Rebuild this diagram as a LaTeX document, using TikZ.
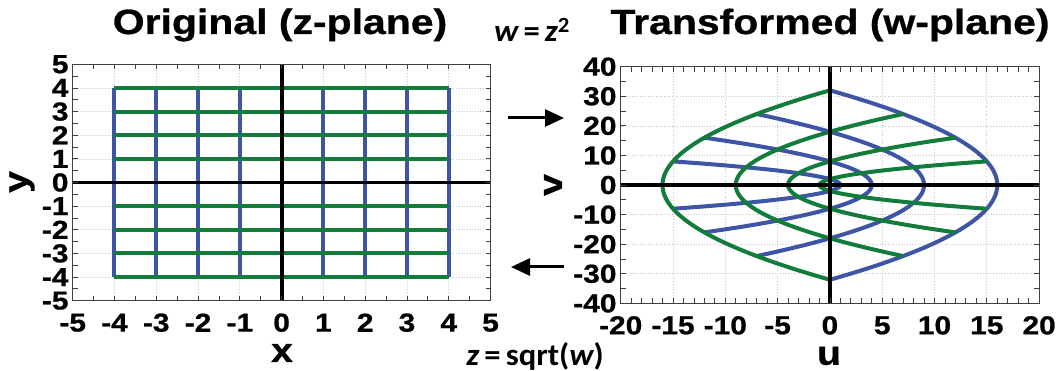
\documentclass[tikz,border=0pt]{standalone}
\usepackage{fontspec}
\setmainfont{Liberation Sans}[FakeStretch=1.15, BoldFeatures={FakeBold=0.8}]
\newfontfamily\titfont{Liberation Sans}[FakeStretch=1.17, BoldFeatures={FakeBold=0.8}]
\newfontfamily\calib{Carlito}[FakeStretch=1.05]
\usetikzlibrary{arrows.meta}
\definecolor{cblue}{RGB}{62,84,165}
\definecolor{cgreen}{RGB}{18,124,58}
\definecolor{cgrid}{RGB}{200,200,200}
\begin{document}
\begin{tikzpicture}[x=1pt,y=-1pt,
  title/.style={font=\fontsize{35}{35}\selectfont\titfont\bfseries, inner sep=0},
  ticklab/.style={font=\fontsize{26}{26}\selectfont\bfseries, inner sep=0},
  axlab/.style={font=\fontsize{34}{34}\selectfont\bfseries, inner sep=0},
  eqlab/.style={font=\fontsize{31}{31}\selectfont\calib\bfseries, inner sep=0},
  gridline/.style={cgrid, dotted, line width=0.7pt},
  bluel/.style={cblue, line width=4pt},
  greenl/.style={cgreen, line width=4pt},
  axisl/.style={black, line width=3.8pt},
  framel/.style={black!75, line width=1pt},
  tickl/.style={black!75, line width=0.8pt},
  arrowl/.style={line width=3pt, -{Triangle[length=19pt,width=17pt]}}]
\useasboundingbox (0,0) rectangle (1060,371);
\fill[white] (0,0) rectangle (1060,371);

% ---------------- left plot ----------------
\begin{scope}[shift={(281.6,182.5)}, x=41.78pt, y=23.64pt]
  \foreach \i in {-4,...,4} {
    \draw[gridline] (\i,-5) -- (\i,5);
    \draw[gridline] (-5,\i) -- (5,\i);
  }
  \foreach \a in {-4,-3,-2,-1,1,2,3,4}
    \draw[bluel] (\a,-4) -- (\a,4);
  \foreach \b in {-4,-3,-2,-1,1,2,3,4}
    \draw[greenl] (-4,\b) -- (4,\b);
  \draw[axisl] (-5,0) -- (5,0);
  \draw[axisl] (0,-5) -- (0,5);
  \foreach \t in {-4.5,-4,...,4.5} {
    \draw[tickl] (\t,-5) -- ++(0pt,5pt);
    \draw[tickl] (\t,5) -- ++(0pt,-5pt);
    \draw[tickl] (-5,\t) -- ++(5pt,0pt);
    \draw[tickl] (5,\t) -- ++(-5pt,0pt);
  }
  \draw[framel] (-5,-5) rectangle (5,5);
  \foreach \i in {-5,...,5} {
    \node[ticklab] (lx\i) at (\i,-5) [yshift=-22pt] {\i};
    \node[ticklab, anchor=east] (ly\i) at (-5,\i) [xshift=-4pt] {\i};
  }
\end{scope}

% ---------------- right plot ----------------
\begin{scope}[shift={(829.9,185.05)}, x=10.46pt, y=2.959pt]
  \foreach \i in {-15,-10,...,15}
    \draw[gridline] (\i,-40) -- (\i,40);
  \foreach \j in {-30,-20,...,30}
    \draw[gridline] (-20,\j) -- (20,\j);
  \foreach \a in {1,2,3,4}
    \draw[bluel] plot[domain=-4:4, samples=81, smooth] ({\a*\a-\x*\x},{2*\a*\x});
  \foreach \b in {1,2,3,4}
    \draw[greenl] plot[domain=-4:4, samples=81, smooth] ({\x*\x-\b*\b},{2*\b*\x});
  \draw[axisl] (-20,0) -- (20,0);
  \draw[axisl] (0,-40) -- (0,40);
  \foreach \t in {-19,...,19} {
    \draw[tickl] (\t,-40) -- ++(0pt,5pt);
    \draw[tickl] (\t,40) -- ++(0pt,-5pt);
  }
  \foreach \t in {-35,-30,...,35} {
    \draw[tickl] (-20,\t) -- ++(5pt,0pt);
    \draw[tickl] (20,\t) -- ++(-5pt,0pt);
  }
  \draw[framel] (-20,-40) rectangle (20,40);
  \foreach \i in {-20,-15,...,20}
    \node[ticklab] (ru\i) at (\i,-40) [yshift=-22pt] {\i};
  \foreach \j in {-40,-30,...,40}
    \node[ticklab, anchor=east] (rv\j) at (-20,\j) [xshift=-4pt] {\j};
\end{scope}

% ---------------- titles and labels ----------------
\node[title] (t1) at (280,25) {Original (z-plane)};
\node[title] (t2) at (830,25) {Transformed (w-plane)};
\node[axlab, rotate=90] (ylab) at (22,182) {y};
\node[axlab] (xlab) at (282,353) {x};
\node[axlab, rotate=90] (vlab) at (553,185) {v};
\node[axlab] (ulab) at (829,356) {u};
\node[eqlab] (eq1) at (532,30) {\itshape w\,\upshape=\,\itshape z\upshape\textsuperscript{2}};
\node[eqlab] (eq2) at (535,356) {\itshape z\,\upshape=\,sqrt(\itshape w\upshape)};

\coordinate (a1s) at (508,118);
\coordinate (a1e) at (564,118);
\coordinate (a2s) at (564,267);
\coordinate (a2e) at (511,267);
\draw[arrowl] (a1s) -- (a1e);
\draw[arrowl] (a2s) -- (a2e);
\end{tikzpicture}
\end{document}
